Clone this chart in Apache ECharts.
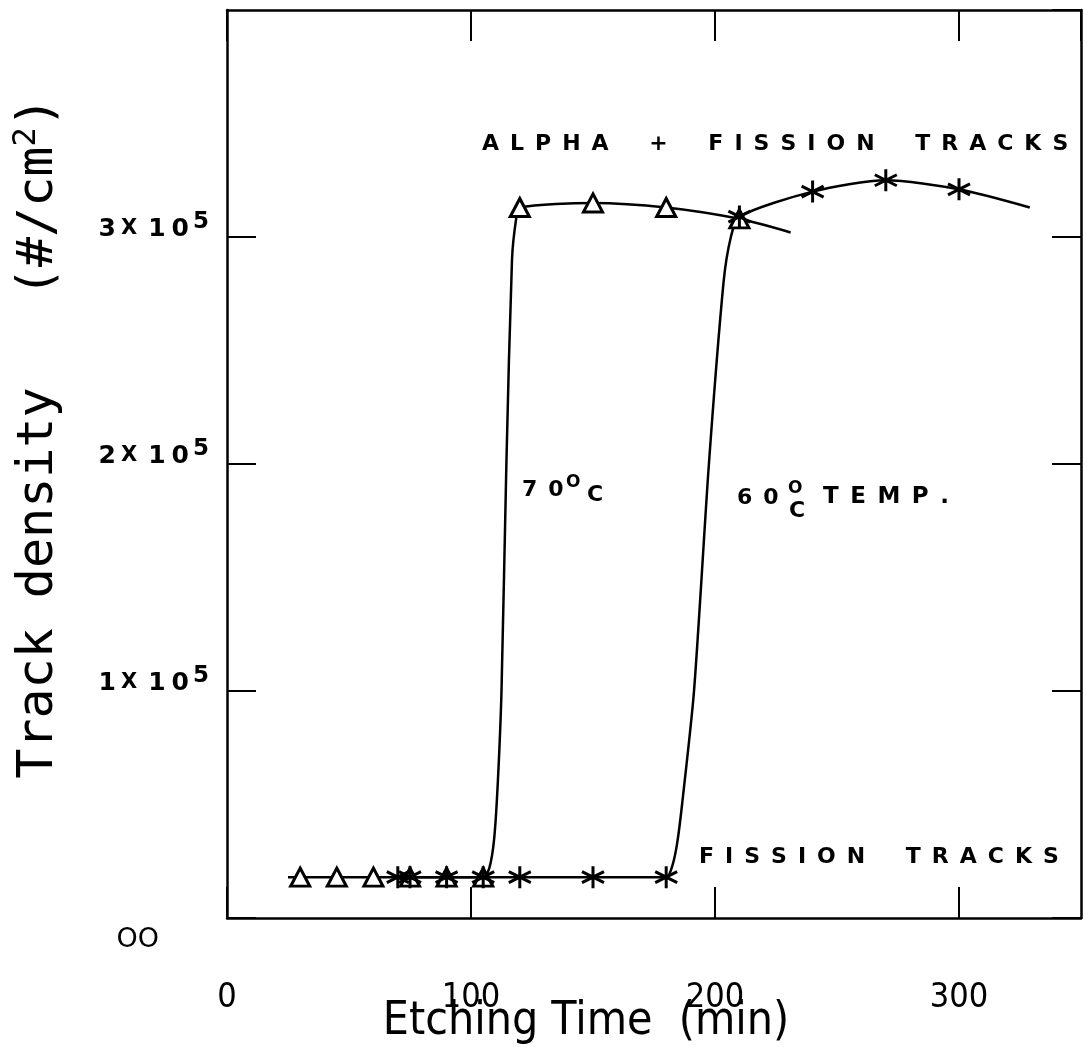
<!DOCTYPE html>
<html>
<head>
<meta charset="utf-8">
<script src="https://cdn.jsdelivr.net/npm/echarts@6/dist/echarts.min.js"></script>
<style>
  html, body { margin: 0; padding: 0; background: #fff; }
  #chart { width: 1086px; height: 1047px; }
</style>
</head>
<body>
<div id="chart"></div>
<script>
// x ticks (min) and y ticks (#/cm2)
const xTicks = [0, 100, 200, 300];
const yTicks = [0, 100000, 200000, 300000];

// 70 C data points (triangles)
const tri70X = [30, 45, 60, 75, 90, 105, 120, 150, 180, 210];
const tri70Y = [18000, 18000, 18000, 18000, 18000, 18000, 313000, 315000, 313000, 308000];

// 60 C data points (asterisks)
const star60X = [70, 75, 90, 105, 120, 150, 180, 210, 240, 270, 300];
const star60Y = [18000, 18000, 18000, 18000, 18000, 18000, 18000, 309000, 320000, 325000, 321000];

// hand drawn curves
const fit70X = [25, 105, 107.5, 109.5, 111, 112.5, 114.5, 116.8, 118.5, 120, 150, 180, 210, 231];
const fit70Y = [18000, 18000, 22000, 35000, 60000, 100000, 200000, 290000, 308000, 313000, 315000, 313000, 308000, 302000];
const fit60X = [70, 180, 182.5, 184.5, 186.5, 191.4, 197.5, 203.5, 206.5, 210, 240, 270, 300, 329];
const fit60Y = [18000, 18000, 23000, 33000, 50000, 100000, 200000, 280000, 300000, 309000, 320000, 325000, 321000, 313000];

const pairs = (xs, ys) => xs.map((x, i) => [x, ys[i]]);

const chart = echarts.init(document.getElementById("chart"));

const asterisk = "path://M10 0 L10 20 M1.34 5 L18.66 15 M1.34 15 L18.66 5";
const boldFont = "DejaVu Sans";
const narrowFont = "'Liberation Sans Narrow', 'DejaVu Sans Condensed', 'Liberation Sans', sans-serif";
const black = { color: "#000", width: 2.5 };
const sp = "\u2002";
const spaced = (s) => s.split(" ").map((w) => w.split("").join(sp)).join(sp + sp + sp + " ");

chart.setOption({
  animation: false,
  backgroundColor: "#fff",
  grid: { left: 227, right: 5, top: 10, bottom: 129, outerBoundsMode: "none" },
  xAxis: [
    {
      type: "value",
      min: 0,
      max: 350,
      interval: 100,
      axisLine: { onZero: false, lineStyle: black },
      axisTick: { inside: true, length: 31, lineStyle: { color: "#000", width: 2 } },
      splitLine: { show: false },
      axisLabel: {
        showMaxLabel: false,
        margin: 63,
        color: "#000",
        fontFamily: narrowFont,
        fontSize: 34,
        formatter: (v) => (xTicks.includes(v) ? String(v) : ""),
      },
      name: "Etching Time  (min)",
      nameLocation: "middle",
      nameGap: 81,
      nameMoveOverlap: false,
      nameTextStyle: {
        color: "#000",
        fontFamily: narrowFont,
        fontSize: 46,
        padding: [0, 136, 0, 0],
      },
    },
    {
      type: "value",
      position: "top",
      min: 0,
      max: 350,
      interval: 100,
      axisLine: { onZero: false, lineStyle: black },
      axisTick: { inside: true, length: 31, lineStyle: { color: "#000", width: 2 } },
      axisLabel: { show: false },
      splitLine: { show: false },
    },
  ],
  yAxis: [
    {
      type: "value",
      min: 0,
      max: 400000,
      interval: 100000,
      axisLine: { show: true, onZero: false, lineStyle: black },
      axisTick: { show: true, inside: true, length: 29, lineStyle: { color: "#000", width: 2 } },
      splitLine: { show: false },
      axisLabel: {
        showMaxLabel: false,
        margin: 18,
        color: "#000",
        padding: [0, 0, 16, 0],
        formatter: (v) => {
          if (!yTicks.includes(v)) return "";
          if (v === 0) return "{z|OO}";
          return "{n|" + v / 100000 + "}{x|X}{n|1}{n|0}{s|5}";
        },
        rich: {
          n: { fontFamily: boldFont, fontWeight: "bold", fontSize: 25, lineHeight: 36, color: "#000", padding: [0, 3, 0, 3] },
          x: { fontFamily: boldFont, fontWeight: "bold", fontSize: 21, lineHeight: 36, color: "#000", padding: [0, 8, 0, 2] },
          s: { fontFamily: boldFont, fontWeight: "bold", fontSize: 23, lineHeight: 24, verticalAlign: "top", color: "#000", padding: [0, 0, 0, 1] },
          z: { fontFamily: boldFont, fontWeight: "normal", fontSize: 27, lineHeight: 30, color: "#000", padding: [60, 50, 0, 0] },
        },
      },
      name: "{t|Track density   (#/cm}{s|2}{t|)}",
      nameLocation: "middle",
      nameRotate: 90,
      nameGap: 160,
      nameTextStyle: {
        padding: [0, 0, 0, 52],
        rich: {
          t: { fontFamily: "DejaVu Sans Mono", fontSize: 50, lineHeight: 56, color: "#000" },
          s: { fontFamily: "DejaVu Sans Mono", fontSize: 32, lineHeight: 30, verticalAlign: "top", color: "#000" },
        },
      },
    },
    {
      type: "value",
      position: "right",
      min: 0,
      max: 400000,
      interval: 100000,
      axisLine: { show: true, onZero: false, lineStyle: black },
      axisTick: { show: true, inside: true, length: 29, lineStyle: { color: "#000", width: 2 } },
      axisLabel: { show: false },
      splitLine: { show: false },
    },
  ],
  series: [
    {
      name: "70C fit",
      type: "line",
      data: pairs(fit70X, fit70Y),
      smooth: 0.25,
      showSymbol: false,
      lineStyle: black,
      z: 2,
    },
    {
      name: "60C fit",
      type: "line",
      data: pairs(fit60X, fit60Y),
      smooth: 0.25,
      showSymbol: false,
      lineStyle: black,
      z: 2,
    },
    {
      name: "70C",
      type: "scatter",
      data: pairs(tri70X, tri70Y),
      symbol: "triangle",
      symbolSize: [19, 18],
      itemStyle: { color: "#fff", borderColor: "#000", borderWidth: 3, opacity: 1 },
      z: 3,
    },
    {
      name: "60C",
      type: "scatter",
      data: pairs(star60X, star60Y),
      symbol: asterisk,
      symbolSize: [22, 22],
      itemStyle: { color: "transparent", borderColor: "#000", borderWidth: 3, opacity: 1 },
      z: 4,
    },
  ],
  graphic: [
    {
      type: "text",
      left: 482,
      top: 133,
      style: {
        text: spaced("ALPHA + FISSION TRACKS"),
        font: "bold 22px 'DejaVu Sans'",
        fill: "#000",
      },
    },
    {
      type: "text",
      left: 699,
      top: 846,
      style: {
        text: spaced("FISSION TRACKS"),
        font: "bold 22px 'DejaVu Sans'",
        fill: "#000",
      },
    },
    {
      type: "text",
      left: 522,
      top: 479,
      style: { text: "7" + sp + "0", font: "bold 22px 'DejaVu Sans'", fill: "#000" },
    },
    {
      type: "text",
      left: 566,
      top: 474,
      style: { text: "O", font: "bold 17px 'DejaVu Sans'", fill: "#000" },
    },
    {
      type: "text",
      left: 587,
      top: 484,
      style: { text: "C", font: "bold 22px 'DejaVu Sans'", fill: "#000" },
    },
    {
      type: "text",
      left: 737,
      top: 487,
      style: { text: "6" + sp + "0", font: "bold 22px 'DejaVu Sans'", fill: "#000" },
    },
    {
      type: "text",
      left: 788,
      top: 480,
      style: { text: "O", font: "bold 17px 'DejaVu Sans'", fill: "#000" },
    },
    {
      type: "text",
      left: 789,
      top: 500,
      style: { text: "C", font: "bold 22px 'DejaVu Sans'", fill: "#000" },
    },
    {
      type: "text",
      left: 823,
      top: 486,
      style: { text: spaced("TEMP."), font: "bold 23px 'DejaVu Sans'", fill: "#000" },
    },
  ],
});

window.addEventListener("resize", () => chart.resize());
</script>
</body>
</html>
